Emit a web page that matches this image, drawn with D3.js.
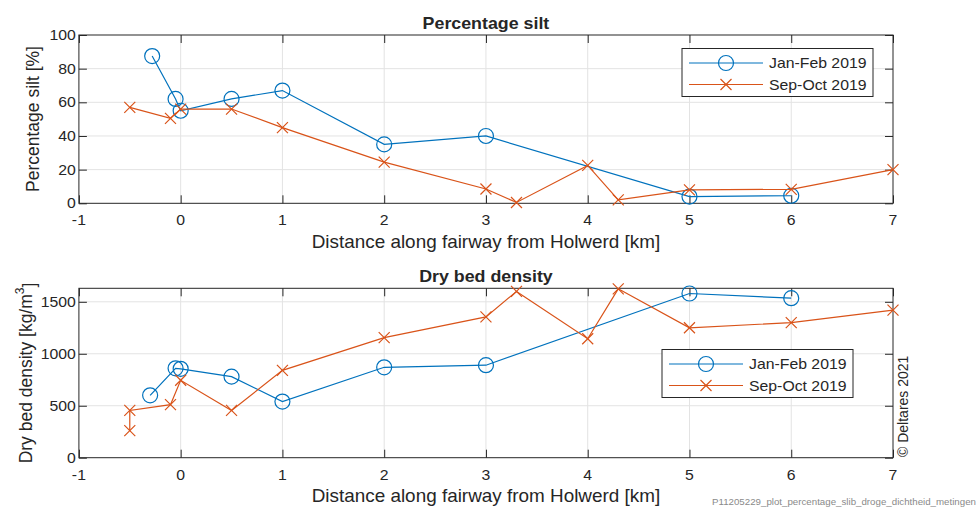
<!DOCTYPE html>
<html>
<head>
<meta charset="utf-8">
<script src="https://cdn.jsdelivr.net/npm/d3@7"></script>
<style>
  html, body { margin: 0; padding: 0; background: #fff; }
  svg { display: block; }
  text { font-family: "Liberation Sans", Arial, sans-serif; fill: #262626; }
</style>
</head>
<body>
<svg id="fig" width="979" height="509"></svg>
<script>
// Measurement campaigns
const seriesNames = ["Jan-Feb 2019", "Sep-Oct 2019"];

// Percentage silt [%] along the fairway
const siltJanX = [-0.28, -0.05, 0.0, 0.5, 1, 2, 3, 5, 6];
const siltJanY = [87.5, 62, 55, 62, 67, 35, 40, 4, 4.5];
const siltSepX = [-0.5, -0.1, 0.0, 0.5, 1, 2, 3, 3.3, 4, 4.3, 5, 6, 7];
const siltSepY = [57, 50.5, 56, 56, 45, 24.5, 8.5, 0.5, 22.5, 2, 8, 8.3, 20];

// Dry bed density [kg/m3] along the fairway
const densJanX = [-0.3, -0.05, 0.0, 0.5, 1, 2, 3, 5, 6];
const densJanY = [600, 860, 855, 780, 540, 870, 890, 1580, 1535];
const densSepX = [-0.5, -0.5, -0.1, 0.0, 0.5, 1, 2, 3, 3.3, 4, 4.3, 5, 6, 7];
const densSepY = [260, 455, 510, 745, 455, 840, 1155, 1355, 1600, 1145, 1625, 1250, 1300, 1420];

// Tick values
const xTicks = [-1, 0, 1, 2, 3, 4, 5, 6, 7];
const siltTicks = [0, 20, 40, 60, 80, 100];
const densTicks = [0, 500, 1000, 1500];

const xLabel = "Distance along fairway from Holwerd [km]";

const colors = ["#0072BD", "#D95319"];
const axisColor = "#262626";
const gridColor = "#e3e3e3";
const SX = 1.13;   // horizontal text stretch for tick and legend text
const SXL = 1.08;  // horizontal text stretch for axis titles
const TICK = 8;

const svg = d3.select("#fig");

function label(g, x, y, str, opts = {}) {
  return g.append("text")
    .attr("transform", `translate(${x},${y}) scale(${opts.sx ?? SX},1)`)
    .attr("text-anchor", opts.anchor || "middle")
    .attr("dominant-baseline", opts.baseline || "central")
    .style("font-size", (opts.size || 14) + "px")
    .style("font-weight", opts.bold ? "bold" : "normal")
    .text(str);
}

function circleMark(g, x, y, c) {
  g.append("circle").attr("cx", x).attr("cy", y).attr("r", 7.5)
    .attr("fill", "none").attr("stroke", c).attr("stroke-width", 1.2);
}
function crossMark(g, x, y, c) {
  const s = 5.5;
  g.append("path")
    .attr("d", `M${x - s},${y - s}L${x + s},${y + s}M${x - s},${y + s}L${x + s},${y - s}`)
    .attr("stroke", c).attr("stroke-width", 1.2).attr("fill", "none");
}
const markers = [circleMark, crossMark];

function panel(cfg) {
  const x = d3.scaleLinear().domain([-1, 7]).range([78.9, 893]);
  const y = d3.scaleLinear().domain(cfg.yDomain).range([cfg.bottom, cfg.top]);
  const g = svg.append("g");
  const [x0, x1] = x.range();
  const [y0, y1] = y.range();

  // grid
  g.append("g").selectAll("line").data(xTicks.slice(1, -1)).join("line")
    .attr("x1", d => x(d)).attr("x2", d => x(d)).attr("y1", y1).attr("y2", y0)
    .attr("stroke", gridColor).attr("stroke-width", 1);
  g.append("g").selectAll("line").data(cfg.yTicks.filter(d => y(d) < y0 - 1 && y(d) > y1 + 1)).join("line")
    .attr("x1", x0).attr("x2", x1).attr("y1", d => y(d)).attr("y2", d => y(d))
    .attr("stroke", gridColor).attr("stroke-width", 1);

  // axes with inward ticks on all four sides
  const axB = g.append("g").attr("transform", `translate(0,${y0})`)
    .call(d3.axisBottom(x).tickValues(xTicks).tickSizeInner(-TICK).tickSizeOuter(0).tickFormat(""));
  const axT = g.append("g").attr("transform", `translate(0,${y1})`)
    .call(d3.axisTop(x).tickValues(xTicks).tickSizeInner(-TICK).tickSizeOuter(0).tickFormat(""));
  const axL = g.append("g").attr("transform", `translate(${x0},0)`)
    .call(d3.axisLeft(y).tickValues(cfg.yTicks).tickSizeInner(-TICK).tickSizeOuter(0).tickFormat(""));
  const axR = g.append("g").attr("transform", `translate(${x1},0)`)
    .call(d3.axisRight(y).tickValues(cfg.yTicks).tickSizeInner(-TICK).tickSizeOuter(0).tickFormat(""));
  [axB, axT, axL, axR].forEach(a => {
    a.select(".domain").remove();
    a.selectAll("line").attr("stroke", axisColor).attr("stroke-width", 1);
  });
  g.append("rect").attr("x", x0).attr("y", y1).attr("width", x1 - x0).attr("height", y0 - y1)
    .attr("fill", "none").attr("stroke", axisColor).attr("stroke-width", 1);

  // tick labels
  xTicks.forEach(d => label(g, x(d), y0 + 17, String(d), { size: 14 }));
  cfg.yTicks.forEach(d => label(g, x0 - 3, y(d), String(d), { size: 14, anchor: "end" }));

  // axis titles
  label(g, (x0 + x1) / 2, y0 + 39, xLabel, { size: 17.5, sx: SXL });
  const yl = g.append("text")
    .attr("transform", `translate(${cfg.ylX},${cfg.ylY}) rotate(-90) scale(1,${SXL})`)
    .attr("text-anchor", "middle").attr("dominant-baseline", "central")
    .style("font-size", "17.5px");
  cfg.yLabel(yl);
  label(g, (x0 + x1) / 2, y1 - 12, cfg.title, { size: 16.5, bold: true, sx: SXL });

  // data
  cfg.series.forEach((s, i) => {
    const pts = s.xs.map((v, k) => [x(v), y(s.ys[k])]);
    g.append("path").attr("d", d3.line()(pts))
      .attr("fill", "none").attr("stroke", colors[i]).attr("stroke-width", 1.2);
    pts.forEach(p => markers[i](g, p[0], p[1], colors[i]));
  });

  // legend
  const L = cfg.legend;
  g.append("rect").attr("x", L.x).attr("y", L.y).attr("width", 191).attr("height", 48)
    .attr("fill", "#fff").attr("stroke", axisColor).attr("stroke-width", 1);
  seriesNames.forEach((name, i) => {
    const ly = L.y + 14.5 + i * 21.5;
    g.append("line").attr("x1", L.x + 7).attr("x2", L.x + 81).attr("y1", ly).attr("y2", ly)
      .attr("stroke", colors[i]).attr("stroke-width", 1.2);
    markers[i](g, L.x + 44, ly, colors[i]);
    label(g, L.x + 87, ly, name, { size: 14, anchor: "start" });
  });
}

panel({
  top: 35, bottom: 203.3, yDomain: [0, 100], yTicks: siltTicks,
  title: "Percentage silt",
  ylX: 33, ylY: 119,
  yLabel: t => t.text("Percentage silt [%]"),
  series: [{ xs: siltJanX, ys: siltJanY }, { xs: siltSepX, ys: siltSepY }],
  legend: { x: 682, y: 48.5 }
});

panel({
  top: 288.3, bottom: 457.7, yDomain: [0, 1630], yTicks: densTicks,
  title: "Dry bed density",
  ylX: 26, ylY: 373,
  yLabel: t => {
    t.append("tspan").text("Dry bed density [kg/m");
    t.append("tspan").attr("dy", "-0.45em").style("font-size", "12px").text("3");
    t.append("tspan").attr("dy", "0.45em").text("]");
  },
  series: [{ xs: densJanX, ys: densJanY }, { xs: densSepX, ys: densSepY }],
  legend: { x: 662, y: 349.5 }
});

// copyright and file tag
svg.append("text")
  .attr("transform", "translate(908,457) rotate(-90)")
  .attr("text-anchor", "start")
  .style("font-size", "14px")
  .text("\u00A9 Deltares 2021");

svg.append("text")
  .attr("x", 712).attr("y", 505)
  .attr("textLength", 264).attr("lengthAdjust", "spacingAndGlyphs")
  .style("font-size", "9.5px").style("fill", "#8a8a8a")
  .text("P11205229_plot_percentage_slib_droge_dichtheid_metingen");
</script>
</body>
</html>
